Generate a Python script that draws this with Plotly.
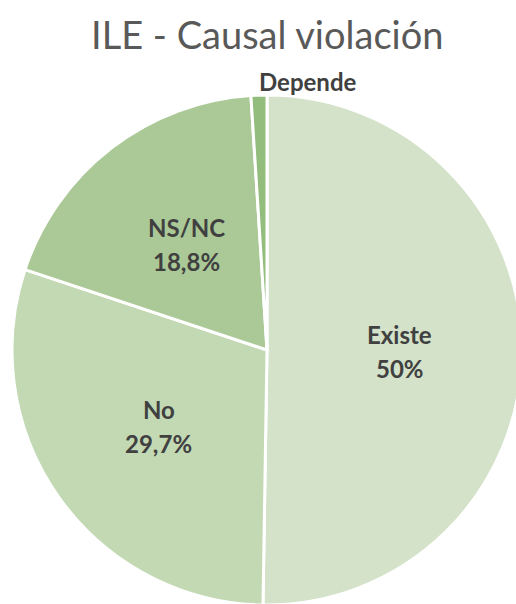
import math
import plotly.graph_objects as go

labels = ["Existe", "No", "NS/NC", "Depende"]
values = [50, 29.7, 18.8, 1.0]
pct_labels = ["50%", "29,7%", "18,8%", None]
colors = ["#d3e2c8", "#c3d9b4", "#abc997", "#93bd7d"]
title_text = "ILE - Causal violación"

# page geometry (pixels)
W, H = 532, 620
CX, CY, R = 267, 350, 255          # pie centre and radius on screen
LABEL_FRAC = 0.52

def px(x):
    return x / W

def py(y):
    return 1 - y / H

fig = go.Figure(go.Pie(
    labels=labels,
    values=values,
    textinfo="none",
    hoverinfo="label",
    sort=False,
    direction="clockwise",
    rotation=0,
    marker=dict(colors=colors, line=dict(color="white", width=3)),
    domain=dict(x=[px(CX - R), px(CX + R)], y=[py(CY + R), py(CY - R)]),
    showlegend=False,
))

lab_font = dict(family="Lato", size=24, color="#404040", weight="bold")
total = sum(values)
cum = 0.0
annotations = []
for lab, v, pct in zip(labels, values, pct_labels):
    mid = (cum + v / 2) / total * 2 * math.pi
    cum += v
    if pct:
        x = CX + LABEL_FRAC * R * math.sin(mid)
        y = CY - LABEL_FRAC * R * math.cos(mid)
        annotations.append(dict(x=px(x), y=py(y), xref="paper", yref="paper",
                                text=lab, showarrow=False, font=lab_font,
                                xanchor="center", yanchor="middle", yshift=17))
        annotations.append(dict(x=px(x), y=py(y), xref="paper", yref="paper",
                                text=pct, showarrow=False, font=lab_font,
                                xanchor="center", yanchor="middle", yshift=-17))
    else:
        x = CX + R * math.sin(mid)
        y = CY - R * math.cos(mid) - 14
        annotations.append(dict(x=px(x - 2), y=py(y), xref="paper", yref="paper",
                                text=lab, showarrow=False, font=lab_font,
                                xanchor="left", yanchor="middle"))

annotations.append(dict(x=px(267), y=py(34), xref="paper", yref="paper",
                        text=title_text, showarrow=False,
                        font=dict(family="Lato", size=38, color="#595959"),
                        xanchor="center", yanchor="middle"))

fig.update_layout(
    width=W, height=H,
    margin=dict(l=0, r=0, t=0, b=0),
    paper_bgcolor="white",
    annotations=annotations,
)
fig.write_html(
    "out.html",
    config={"displayModeBar": False},
    post_script="document.body.style.margin='0';document.body.style.overflow='hidden';",
)
